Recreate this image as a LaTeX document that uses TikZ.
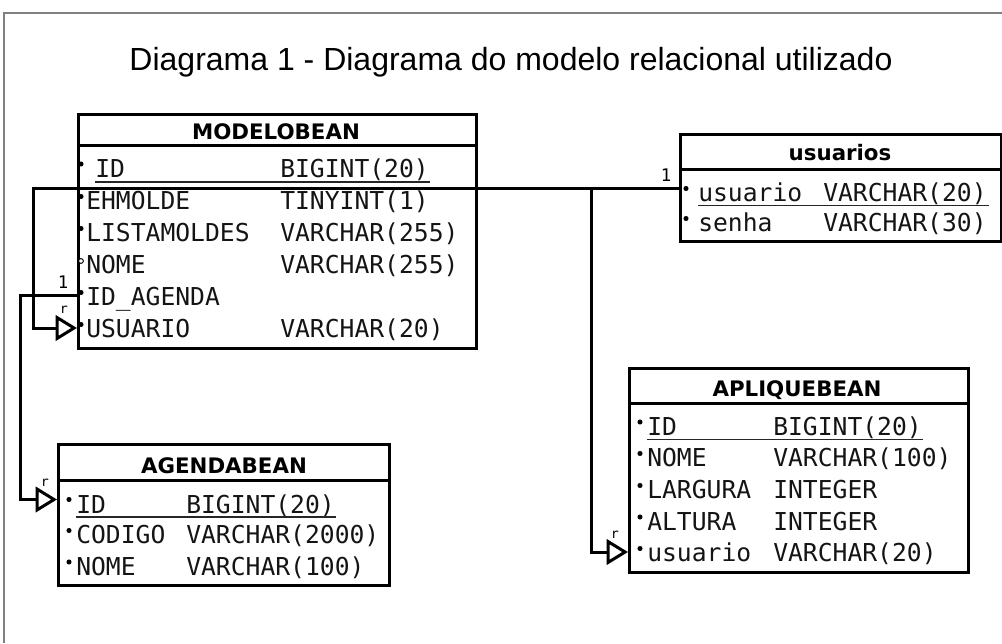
\documentclass[tikz,border=0pt]{standalone}
\usepackage{fontspec}
\setmainfont{Liberation Sans}
\newfontfamily\monofont{DejaVu Sans Mono}
\newfontfamily\hdrfont{DejaVu Sans}
\usetikzlibrary{arrows.meta}
\begin{document}
\begin{tikzpicture}[x=0.75pt,y=-0.75pt,
  tbl/.style={draw, line width=2.25pt, anchor=north west, inner sep=0pt},
  hdr/.style={anchor=base, inner sep=0pt, font=\hdrfont\bfseries\fontsize{16}{18}\selectfont},
  fld/.style={anchor=base west, inner sep=0pt, font=\monofont\fontsize{18.5}{20}\selectfont, text=black!92},
  sep/.style={line width=2.25pt},
  uline/.style={line width=1.3pt, black!85},
  dot/.style={fill=black},
  odot/.style={draw=black, line width=0.7pt, fill=white},
  conn/.style={line width=2.25pt},
  tip/.style={-{Triangle[open, length=16pt, width=19pt, line width=2.25pt, fill=white]}},
  card/.style={inner sep=0pt, font=\monofont\fontsize{13}{15}\selectfont},
  rmark/.style={inner sep=0pt, font=\monofont\fontsize{10}{11}\selectfont}
]
\useasboundingbox (0,0) rectangle (1002,643);
% frame
\draw[gray, line width=0.8pt] (4,643) -- (4,13) -- (1002,13);
% title
\node[anchor=base, inner sep=0pt, font=\fontsize{24}{28}\selectfont] (title) at (511,70.7) {Diagrama 1 - Diagrama do modelo relacional utilizado};

% ---------------- MODELOBEAN
\node[tbl, minimum width=398*0.75pt, minimum height=234*0.75pt] (modelo) at (77,113) {};
\draw[sep] (modelo.west |- 0,145) -- (modelo.east |- 0,145);
\node[hdr] (modeloh) at (276,139.3) {MODELOBEAN};
\fill[dot] (81,164) circle (1.9pt);
\node[fld] (m1) at (95,177) {ID};
\node[fld] (m1t) at (280,177) {BIGINT(20)};
\draw[uline] (95,182) -- (430,182);
\fill[dot] (81,196.5) circle (1.9pt);
\node[fld] (m2) at (86,209) {EHMOLDE};
\node[fld] (m2t) at (280,209) {TINYINT(1)};
\fill[dot] (81,228.5) circle (1.9pt);
\node[fld] (m3) at (86,241.3) {LISTAMOLDES};
\node[fld] (m3t) at (280,241.3) {VARCHAR(255)};
\draw[odot] (81,261) circle (1.8pt);
\node[fld] (m4) at (86,273.7) {NOME};
\node[fld] (m4t) at (280,273.7) {VARCHAR(255)};
\fill[dot] (81,292.5) circle (1.9pt);
\node[fld] (m5) at (86,305.5) {ID\_AGENDA};
\fill[dot] (81,324.5) circle (1.9pt);
\node[fld] (m6) at (86,337.5) {USUARIO};
\node[fld] (m6t) at (280,337.5) {VARCHAR(20)};

% ---------------- usuarios
\node[tbl, minimum width=321*0.75pt, minimum height=107*0.75pt] (usuarios) at (679,133) {};
\draw[sep] (usuarios.west |- 0,169) -- (usuarios.east |- 0,169);
\node[hdr] (usuariosh) at (840,160.7) {usuarios};
\fill[dot] (686,188.5) circle (1.9pt);
\node[fld] (u1) at (698,201.7) {usuario};
\node[fld] (u1t) at (823,201.7) {VARCHAR(20)};
\draw[uline] (698,205.5) -- (989,205.5);
\fill[dot] (686,218.5) circle (1.9pt);
\node[fld] (u2) at (698,231.7) {senha};
\node[fld] (u2t) at (823,231.7) {VARCHAR(30)};

% ---------------- AGENDABEAN
\node[tbl, minimum width=331*0.75pt, minimum height=140.5*0.75pt] (agenda) at (57,443) {};
\draw[sep] (agenda.west |- 0,480) -- (agenda.east |- 0,480);
\node[hdr] (agendah) at (224,473.3) {AGENDABEAN};
\fill[dot] (69,499.5) circle (1.9pt);
\node[fld] (a1) at (76,513.3) {ID};
\node[fld] (a1t) at (186,513.3) {BIGINT(20)};
\draw[uline] (76,517) -- (336,517);
\fill[dot] (69,530.5) circle (1.9pt);
\node[fld] (a2) at (76,543.5) {CODIGO};
\node[fld] (a2t) at (186,543.5) {VARCHAR(2000)};
\fill[dot] (69,562) circle (1.9pt);
\node[fld] (a3) at (76,575) {NOME};
\node[fld] (a3t) at (186,575) {VARCHAR(100)};

% ---------------- APLIQUEBEAN
\node[tbl, minimum width=338.5*0.75pt, minimum height=204*0.75pt] (aplique) at (628,367) {};
\draw[sep] (aplique.west |- 0,403) -- (aplique.east |- 0,403);
\node[hdr] (apliqueh) at (797,396) {APLIQUEBEAN};
\fill[dot] (640,422) circle (1.9pt);
\node[fld] (p1) at (647,435) {ID};
\node[fld] (p1t) at (773,435) {BIGINT(20)};
\draw[uline] (647,439.5) -- (923,439.5);
\fill[dot] (640,453.5) circle (1.9pt);
\node[fld] (p2) at (647,466.7) {NOME};
\node[fld] (p2t) at (773,466.7) {VARCHAR(100)};
\fill[dot] (640,485.5) circle (1.9pt);
\node[fld] (p3) at (647,498.3) {LARGURA};
\node[fld] (p3t) at (773,498.3) {INTEGER};
\fill[dot] (640,517) circle (1.9pt);
\node[fld] (p4) at (647,530) {ALTURA};
\node[fld] (p4t) at (773,530) {INTEGER};
\fill[dot] (640,548.5) circle (1.9pt);
\node[fld] (p5) at (647,561.7) {usuario};
\node[fld] (p5t) at (773,561.7) {VARCHAR(20)};

% ---------------- connectors
\coordinate (k1) at (33,188.3);
\coordinate (k2) at (33,328);
\coordinate (k3) at (591,188.3);
\coordinate (k4) at (591,552);
\coordinate (k5) at (20,295);
\coordinate (k6) at (20,499.5);

\draw[conn, tip] (usuarios.west |- k1) -- (k1) -- (k2) -- (modelo.west |- k2);
\draw[conn, tip] (k3) -- (k4) -- (aplique.west |- k4);
\draw[conn, tip] (modelo.west |- k5) -- (k5) -- (k6) -- (agenda.west |- k6);

\node[card] (c1) at (666,175) {1};
\node[card] (c2) at (63,282) {1};
\node[rmark] (r1) at (64,310) {r};
\node[rmark] (r2) at (45,483) {r};
\node[rmark] (r3) at (615,535) {r};
\end{tikzpicture}
\end{document}
